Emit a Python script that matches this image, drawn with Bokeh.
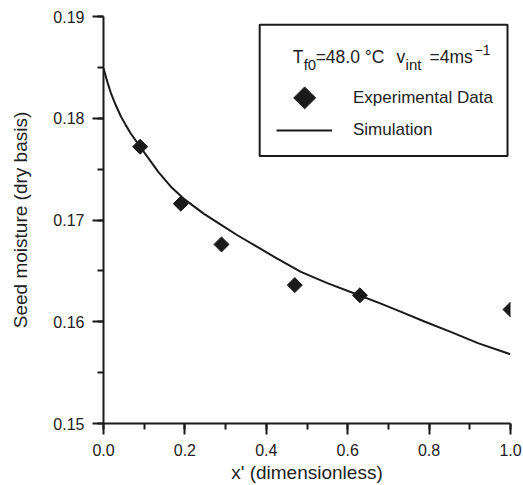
import math
from bokeh.plotting import figure
from bokeh.models import (Range1d, SingleIntervalTicker, PrintfTickFormatter,
                          Legend, LegendItem, BoxAnnotation, Label)
from bokeh.embed import file_html
from bokeh.resources import INLINE

# ---- data ----
exp_x = [0.09, 0.19, 0.29, 0.47, 0.63, 1.00]
exp_y = [0.1772, 0.1716, 0.1676, 0.1636, 0.1626, 0.1612]

sim_x = [0.000, 0.010, 0.018, 0.030, 0.0425, 0.055, 0.067, 0.090, 0.108, 0.135,
         0.165, 0.200, 0.247, 0.290, 0.329, 0.380, 0.427, 0.485, 0.550, 0.628,
         0.680, 0.730, 0.790, 0.853, 0.920, 1.000]
sim_y = [0.1849, 0.1835, 0.1825, 0.1813, 0.1802, 0.1793, 0.1785, 0.1772, 0.1762, 0.1747,
         0.1733, 0.1720, 0.1706, 0.1695, 0.1685, 0.1673, 0.1662, 0.1649, 0.1638, 0.1626,
         0.1618, 0.1610, 0.1600, 0.1590, 0.1579, 0.1568]

x_label = "x' (dimensionless)"
y_label = "Seed moisture (dry basis)"
series_names = ["Experimental Data", "Simulation"]

FONT = "Liberation Sans"
INK = "#1a1a1a"
TXT = "#222222"

FW, FH = 407, 407
p = figure(frame_width=FW, frame_height=FH,
           min_border_left=103, min_border_right=12,
           min_border_top=16, min_border_bottom=60,
           x_range=Range1d(0, 1), y_range=Range1d(0.15, 0.19),
           output_backend="svg", toolbar_location=None,
           x_axis_location="below", y_axis_location="left")
p.outline_line_color = None
p.xgrid.visible = False
p.ygrid.visible = False
p.background_fill_color = "white"

p.xaxis.ticker = SingleIntervalTicker(interval=0.2, num_minor_ticks=2)
p.yaxis.ticker = SingleIntervalTicker(interval=0.01, num_minor_ticks=2)
p.xaxis.formatter = PrintfTickFormatter(format="%.1f")
p.yaxis.formatter = PrintfTickFormatter(format="%.2f")
p.xaxis.axis_label = x_label
p.yaxis.axis_label = y_label

for ax in (p.xaxis, p.yaxis):
    ax.axis_line_width = 2
    ax.axis_line_color = INK
    ax.major_tick_line_width = 2
    ax.major_tick_line_color = INK
    ax.minor_tick_line_width = 2
    ax.minor_tick_line_color = INK
    ax.major_tick_in = 0
    ax.minor_tick_in = 0
    ax.major_tick_out = 11
    ax.minor_tick_out = 6
    ax.major_label_text_font = FONT
    ax.major_label_text_font_size = "16px"
    ax.major_label_text_color = TXT
    ax.axis_label_text_font = FONT
    ax.axis_label_text_font_size = "19px"
    ax.axis_label_text_font_style = "normal"
    ax.axis_label_text_color = TXT

p.yaxis.major_label_standoff = 8
p.yaxis.axis_label_standoff = 19
p.xaxis.major_label_standoff = 9
p.xaxis.axis_label_standoff = 3

line_r = p.line(sim_x, sim_y, line_color=INK, line_width=2)
pts_r = p.scatter(exp_x, exp_y, marker="square", angle=math.pi / 4,
                  size=10.6, fill_color=INK, line_color=INK)

# ---- legend box & header (layout helpers: page px -> data) ----
X0P, X1P, Y0P, Y1P = 102.7, 510.0, 15.7, 422.3
def dx(px):
    return (px - X0P) / (X1P - X0P)
def dy(py):
    return 0.19 - (py - Y0P) / (Y1P - Y0P) * 0.04

box = BoxAnnotation(left=dx(259), right=dx(507), top=dy(24), bottom=dy(155),
                    fill_alpha=0, line_color=INK, line_alpha=1, line_width=2)
p.add_layout(box)

def lab(text, px, py, size):
    p.add_layout(Label(x=dx(px), y=dy(py), text=text, text_font=FONT,
                       text_font_size=size, text_color=TXT,
                       text_align="left", text_baseline="alphabetic"))

lab("T", 292, 56, "17.5px")
lab("f0", 303, 63.5, "15px")
lab("=48.0 \u00b0C", 315, 56, "17.5px")
lab("v", 396, 56, "17.5px")
lab("int", 405, 63.5, "15px")
lab("=4ms", 429, 56, "17.5px")
lab("\u22121", 474, 49, "14px")

# legend key for the diamonds (rotated square, as the legend draws markers unrotated)
key_r = p.scatter([], [], marker="square", fill_alpha=0, line_alpha=0)
p.scatter([dx(304)], [dy(97)], marker="square", angle=math.pi / 4,
          size=15.5, fill_color=INK, line_color=INK)

legend = Legend(items=[LegendItem(label=series_names[0], renderers=[key_r]),
                       LegendItem(label=series_names[1], renderers=[line_r])],
                location=(173, 277), orientation="vertical",
                padding=0, margin=0, spacing=0,
                glyph_width=56, glyph_height=32, label_standoff=21,
                label_text_font=FONT, label_text_font_size="17px",
                label_text_color=TXT, label_text_baseline="middle",
                background_fill_alpha=0, border_line_color=None)
p.add_layout(legend)

open("out.html", "w").write(file_html(p, INLINE))
